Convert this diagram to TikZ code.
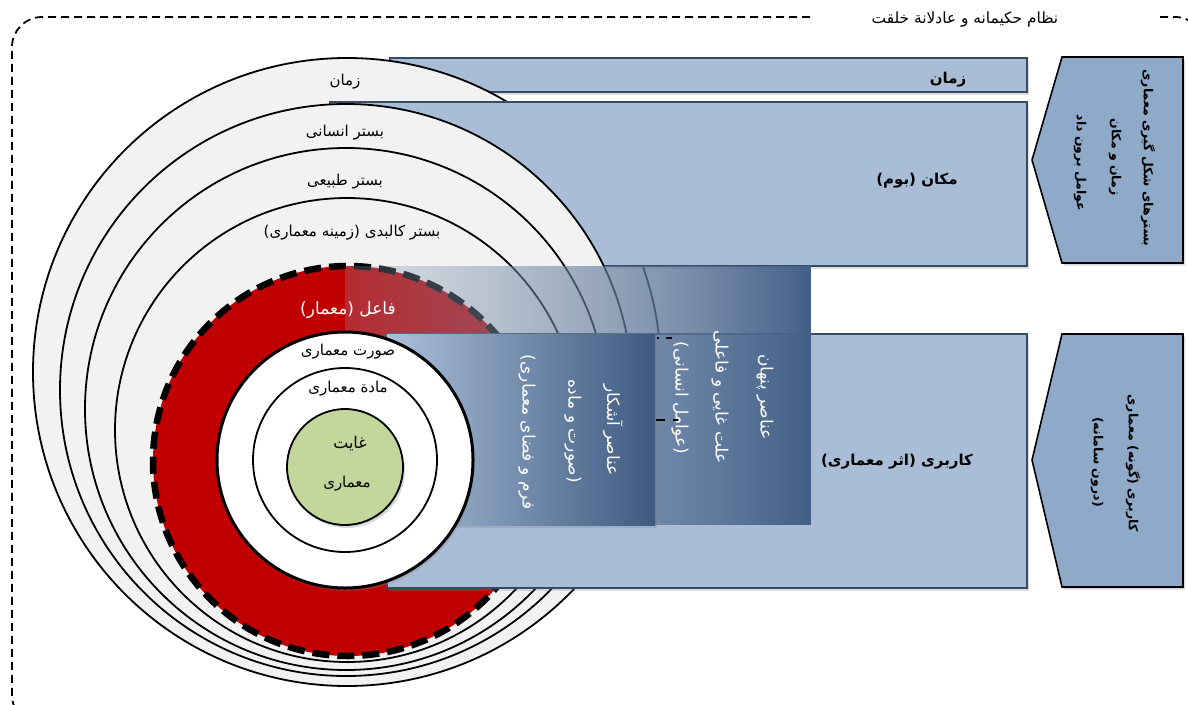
\documentclass[tikz,border=0pt]{standalone}
\usepackage{fontspec}
\TeXXeTstate=1
\newfontfamily\fa[Script=Arabic]{DejaVu Sans}
\usetikzlibrary{shadows}
\definecolor{rectblue}{RGB}{169,189,214}
\definecolor{rectline}{RGB}{55,75,100}
\definecolor{pentblue}{RGB}{143,169,201}
\definecolor{ringgray}{RGB}{242,242,242}
\definecolor{faered}{RGB}{192,0,0}
\definecolor{greenc}{RGB}{195,214,155}
\definecolor{boxAl}{RGB}{172,192,218}
\definecolor{boxAr}{RGB}{61,90,128}
\definecolor{boxBl}{RGB}{150,166,188}
\definecolor{boxBr}{RGB}{66,96,136}
\tikzset{
  border/.style={line width=1.8pt, dash pattern=on 8pt off 5pt},
  ring/.style={draw=black, line width=1.8pt, fill=ringgray},
  bar/.style={draw=rectline, line width=1.2pt, fill=rectblue,
     drop shadow={opacity=0.25, shadow xshift=2pt, shadow yshift=-2.5pt}},
  pent/.style={draw=black, line width=1.6pt, fill=pentblue,
     drop shadow={opacity=0.3, shadow xshift=2pt, shadow yshift=-2.5pt}},
  lab/.style={font=\fa\fontsize{15}{17}\selectfont, inner sep=0pt},
  blab/.style={font=\fa\bfseries\fontsize{15}{17}\selectfont, inner sep=0pt},
  wlab/.style={font=\fa\fontsize{17}{19}\selectfont, inner sep=0pt, text=white},
  vlab/.style={font=\fa\fontsize{17}{19}\selectfont, inner sep=0pt, text=white, rotate=-90},
  plab/.style={font=\fa\bfseries\fontsize{12.5}{14}\selectfont, inner sep=0pt, rotate=-90},
  tick/.style={line width=2.2pt, black}
}
\begin{document}
\begin{tikzpicture}[x=1pt,y=-1pt]
\useasboundingbox (0,0) rectangle (1188,704);
% outer dashed frame
\draw[border, rounded corners=30pt] (810,17) -- (12,17) -- (12,725) -- (300,725);
\draw[border, rounded corners=30pt] (1160,17) -- (1205,17) -- (1205,60);
\node[lab, font=\fa\fontsize{15.4}{17}\selectfont] (title) at (965,20) {\beginR نظام حکیمانه و عادلانة خلقت\endR};
% zaman bar
\path[bar] (390,58) rectangle (1027,92);
% circles
\path[ring] (347,372) circle[radius=314];
\path[bar] (330,102) rectangle (1027,266);
\path[ring] (346,390) circle[radius=286];
\path[ring] (346,409) circle[radius=261];
\path[ring] (347,430) circle[radius=232];
\fill[faered] (348,461) circle[radius=195];
\draw[line width=6.5pt, dash pattern=on 17pt off 8pt] (348,461) circle[radius=195];
% karbari bar
\path[bar] (387,334) rectangle (1027,588);
% hidden elements box: translucent gradient built from thin strips
\foreach \i in {0,...,232}{
  \pgfmathsetmacro\pc{100-\i/2.32}
  \pgfmathsetmacro\op{0.26+0.74*(\i/232)}
  \fill[boxBl!\pc!boxBr, fill opacity=\op] ({345+2*\i},266) rectangle ({347+2*\i},525);
}
% visible elements box
\fill[left color=boxAl, right color=boxAr, drop shadow={opacity=0.25, shadow xshift=2pt, shadow yshift=-2.5pt}] (387,334) rectangle (655,525);
% inner circles
\draw[line width=3pt, fill=white, drop shadow={opacity=0.3, shadow xshift=2pt, shadow yshift=-3pt}] (345,460) circle[radius=128];
\draw[line width=1.8pt, fill=white] (345,460) circle[radius=92];
\draw[line width=1.8pt, fill=greenc, drop shadow={opacity=0.3, shadow xshift=2pt, shadow yshift=-3pt}] (345,467) circle[radius=58];
% circle labels
\node[lab] (c1) at (345,82) {\beginR زمان\endR};
\node[lab] (c2) at (345,133) {\beginR بستر انسانی\endR};
\node[lab] (c3) at (345,182) {\beginR بستر طبیعی\endR};
\node[lab] (c4) at (352,233) {\beginR بستر کالبدی (زمینه معماری)\endR};
\node[wlab] (c5) at (348,310) {\beginR فاعل (معمار)\endR};
\node[lab] (c6) at (348,352) {\beginR صورت معماری\endR};
\node[lab] (c7) at (348,389) {\beginR مادة معماری\endR};
\node[lab, font=\fa\fontsize{16}{18}\selectfont] (c8a) at (350,444) {\beginR غایت\endR};
\node[lab] (c8b) at (347,484) {\beginR معماری\endR};
% bar labels
\node[blab] (b1) at (948,80) {\beginR زمان\endR};
\node[blab] (b2) at (917,181) {\beginR مکان (بوم)\endR};
\node[blab] (b3) at (897,462) {\beginR کاربری (اثر معماری)\endR};
% box texts
\node[vlab] (a1) at (613,430) {\beginR عناصر آشکار\endR};
\node[vlab] (a2) at (573,431) {\beginR (صورت و ماده\endR};
\node[vlab] (a3) at (527,432) {\beginR فرم و فضای معماری)\endR};
\node[vlab] (h1) at (765,397) {\beginR عناصر پنهان\endR};
\node[vlab] (h2) at (720,397) {\beginR علت غایی و فاعلی\endR};
\node[vlab] (h3) at (680,398) {\beginR (عوامل انسانی)\endR};
% small marks
\draw[tick] (657,338) -- (659,338);
\draw[tick] (666,338) -- (672,338);
\draw[tick] (656,420) -- (665,420);
\draw[tick] (673,420) -- (678,420);
% pentagons
\path[pent] (1032,160) -- (1062,57) -- (1183,57) -- (1183,263) -- (1062,263) -- cycle;
\path[pent] (1032,460) -- (1062,334) -- (1183,334) -- (1183,587) -- (1062,587) -- cycle;
\node[plab] (p1) at (1148,158) {\beginR بسترهای شکل گیری معماری\endR};
\node[plab] (p2) at (1115,157) {\beginR زمان و مکان\endR};
\node[plab] (p3) at (1080,163) {\beginR عوامل برون داد\endR};
\node[plab] (q1) at (1133,463) {\beginR کاربری (گونه) معماری\endR};
\node[plab] (q2) at (1097,462) {\beginR (درون سامانه)\endR};
\end{tikzpicture}
\end{document}
